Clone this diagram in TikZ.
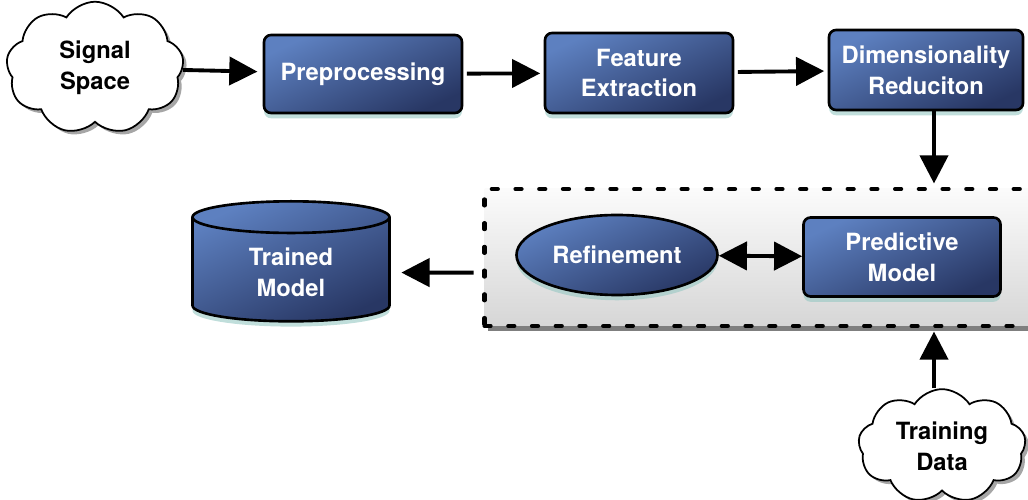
\documentclass[tikz,border=0pt]{standalone}
\usepackage{fontspec}
\setmainfont{TeX Gyre Heros}
\usetikzlibrary{shapes.geometric,shapes.symbols,shadows,arrows.meta}

\definecolor{boxlight}{RGB}{93,128,192}
\definecolor{boxdark}{RGB}{40,55,100}
\definecolor{glow}{RGB}{150,200,195}

\tikzset{
  bigtip/.tip={Triangle[length=16pt, width=16pt]},
  label font/.style={font=\fontsize{13.5}{17.5}\selectfont\bfseries, align=center},
  bluebox/.style={label font, text=white, draw=black, line width=1.5pt,
    rounded corners=4pt, top color=boxlight, bottom color=boxdark, shading angle=25,
    drop shadow={shadow xshift=0pt, shadow yshift=-3pt, fill=glow, opacity=0.6}},
  bluecloud/.style={label font, text=black, cloud, cloud puffs=9, cloud puff arc=115,
    aspect=1.6, draw=black, line width=1pt, fill=white,
    drop shadow={shadow xshift=2pt, shadow yshift=-2pt, fill=black, opacity=0.35}},
  flow/.style={line width=2.2pt, -bigtip},
  stagebox/.style={draw=black, line width=2.3pt, dash pattern=on 3.5pt off 10pt,
    line cap=round, top color=gray!3, bottom color=gray!32,
    drop shadow={shadow xshift=2pt, shadow yshift=-3pt, fill=black, opacity=0.5}}
}

\begin{document}
\begin{tikzpicture}
  \useasboundingbox (0,0) rectangle (20.56,-10);

  % top row
  \node[bluecloud, minimum width=3.55cm, minimum height=2.65cm] (signal) at (1.90,-1.36) {Signal\\Space};
  \node[bluebox, minimum width=3.96cm, minimum height=1.56cm] (prep) at (7.26,-1.48) {Preprocessing};
  \node[bluebox, minimum width=3.76cm, minimum height=1.6cm] (feat) at (12.78,-1.46) {Feature\\Extraction};
  \node[bluebox, minimum width=3.88cm, minimum height=1.6cm] (dimred) at (18.52,-1.40) {Dimensionality\\Reduciton};

  % training stage
  \node[stagebox, minimum width=11.1cm, minimum height=2.74cm] (stage) at (15.24,-5.15) {};
  \node[bluebox, ellipse, minimum width=4.02cm, minimum height=1.6cm] (refine) at (12.34,-5.10) {Refinement};
  \node[bluebox, minimum width=3.94cm, minimum height=1.58cm] (predict) at (18.04,-5.14) {Predictive\\Model};

  \node[bluebox, rounded corners=0pt, cylinder, shape border rotate=90, aspect=0.33,
    minimum width=3.94cm, minimum height=2.4cm, anchor=north] (trained) at (5.82,-4.0) {Trained\\Model};

  \node[bluecloud, minimum width=3.35cm, minimum height=2.2cm] (training) at (18.84,-8.92) {Training\\Data};

  \coordinate (tap) at (18.68,0);

  \draw[flow, shorten >=3pt] (signal) -- (prep);
  \draw[flow, shorten <=2pt, shorten >=2pt] (prep) -- (feat);
  \draw[flow, shorten <=2pt, shorten >=2pt] (feat) -- (dimred);
  \draw[flow, shorten >=2pt] (dimred.south -| tap) -- (stage.north -| tap);
  \draw[flow, shorten >=2pt] (training.north -| tap) -- (stage.south -| tap);
  \draw[flow, shorten <=5pt, shorten >=6pt] (stage.west |- trained) -- (trained);
  \draw[line width=2.2pt, bigtip-bigtip] (refine) -- (predict);
\end{tikzpicture}
\end{document}
